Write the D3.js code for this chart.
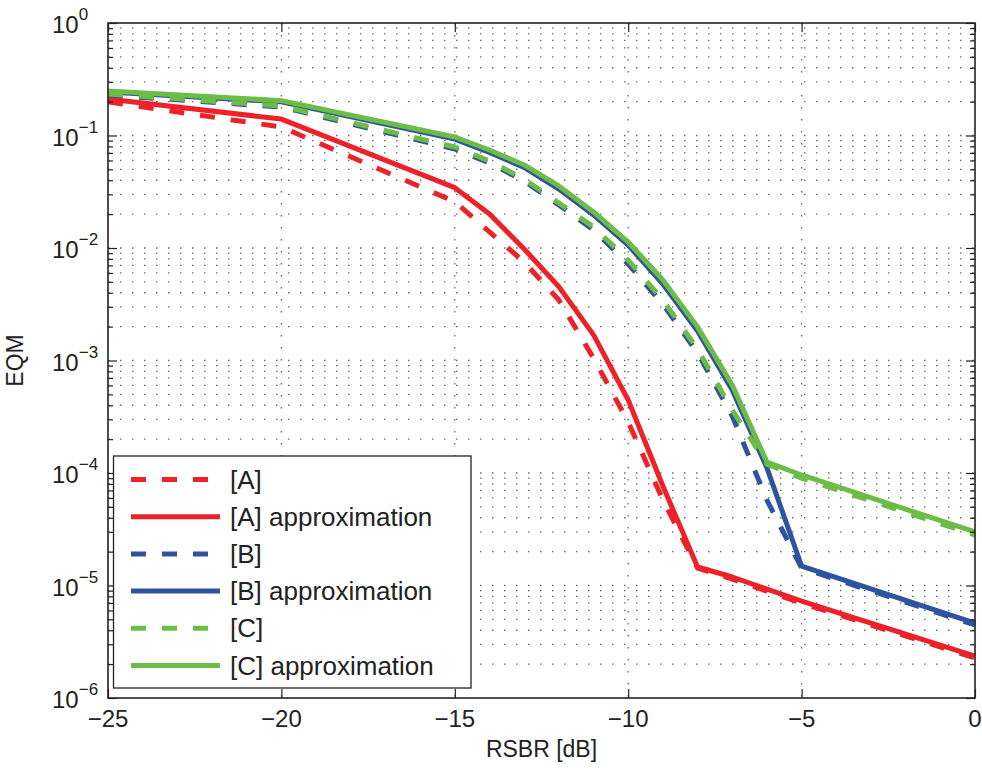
<!DOCTYPE html>
<html>
<head>
<meta charset="utf-8">
<script src="https://cdn.jsdelivr.net/npm/d3@7"></script>
<style>
  html, body { margin: 0; padding: 0; background: #fff; }
  svg { display: block; font-family: "Liberation Sans", Arial, Helvetica, sans-serif; }
</style>
</head>
<body>
<svg id="chart" width="982" height="774"></svg>
<script>
// ---- data ----
const rsbr = [-25, -20, -15, -14, -13, -12, -11, -10, -9, -8, -7, -6, -5, 0];

const eqmA       = [0.199, 0.119, 0.0258, 0.0139, 0.0075, 0.00345, 0.00105, 2.84e-4, 5.75e-5, 1.43e-5, 1.14e-5, 8.9e-6, 6.98e-6, 2.27e-6];
const eqmAapprox = [0.211, 0.140, 0.0344, 0.0201, 0.0098, 0.00453, 0.00169, 4.46e-4, 7.66e-5, 1.46e-5, 1.19e-5, 9.3e-6, 7.28e-6, 2.36e-6];
const eqmB       = [0.229, 0.179, 0.0759, 0.057, 0.0394, 0.0241, 0.0145, 0.0072, 0.00318, 0.00117, 3.21e-4, 5.75e-5, 1.43e-5, 4.46e-6];
const eqmBapprox = [0.244, 0.199, 0.093, 0.0706, 0.052, 0.0334, 0.0197, 0.0106, 0.00479, 0.00183, 5.47e-4, 1.11e-4, 1.49e-5, 4.64e-6];
const eqmC       = [0.234, 0.183, 0.079, 0.0593, 0.041, 0.0251, 0.0154, 0.0078, 0.00345, 0.00126, 3.63e-4, 1.2e-4, 9.0e-5, 2.81e-5];
const eqmCapprox = [0.249, 0.204, 0.097, 0.0743, 0.0547, 0.0356, 0.0209, 0.0113, 0.0052, 0.00199, 6.05e-4, 1.25e-4, 9.6e-5, 2.99e-5];

const seriesNames  = ["[A]", "[A] approximation", "[B]", "[B] approximation", "[C]", "[C] approximation"];
const seriesValues = [eqmA, eqmAapprox, eqmB, eqmBapprox, eqmC, eqmCapprox];
const seriesColors = ["#EE2129", "#EE2129", "#2F53A0", "#2F53A0", "#6CBD45", "#6CBD45"];
const seriesDashed = [true, false, true, false, true, false];

const xTicks = [-25, -20, -15, -10, -5, 0];
const yExponents = [0, -1, -2, -3, -4, -5, -6];
const xLabel = "RSBR [dB]";
const yLabel = "EQM";

// ---- layout ----
const L = 108, R = 975, T = 23, B = 698;
const svg = d3.select("#chart");
const x = d3.scaleLinear().domain([-25, 0]).range([L, R]);
const y = d3.scaleLog().domain([1e-6, 1]).range([B, T]);

// minor log positions
const minorVals = [];
for (let e = -6; e < 0; e++) for (let m = 2; m <= 9; m++) minorVals.push(m * Math.pow(10, e));
const majorVals = yExponents.map(e => Math.pow(10, e));

// ---- grid ----
const grid = svg.append("g");
grid.selectAll("line.hg").data(majorVals.concat(minorVals).filter(v => v > 1e-6 && v < 1))
  .join("line")
  .attr("x1", L).attr("x2", R)
  .attr("y1", d => y(d)).attr("y2", d => y(d))
  .attr("stroke", "#6a6a6a").attr("stroke-width", 1.3)
  .attr("stroke-dasharray", "1.5,10.5");
grid.selectAll("line.vg").data(xTicks.filter(v => v > -25 && v < 0))
  .join("line")
  .attr("x1", d => x(d)).attr("x2", d => x(d))
  .attr("y1", T).attr("y2", B)
  .attr("stroke", "#6a6a6a").attr("stroke-width", 1.3)
  .attr("stroke-dasharray", "1.5,10.5");

// ---- series ----
const line = d3.line().x(d => x(d[0])).y(d => y(d[1]));
seriesValues.forEach((vals, i) => {
  svg.append("path")
    .datum(rsbr.map((r, k) => [r, vals[k]]))
    .attr("d", line)
    .attr("fill", "none")
    .attr("stroke", seriesColors[i])
    .attr("stroke-width", 5)
    .attr("stroke-linejoin", "round")
    .attr("stroke-dasharray", seriesDashed[i] ? "15,16" : null);
});

// ---- axes (ticks inward) ----
const axisColor = "#222";
function styleAxis(g) {
  g.select(".domain").remove();
  g.selectAll("line").attr("stroke", axisColor).attr("stroke-width", 1.2);
  g.selectAll("text").remove();
}
svg.append("g").attr("transform", `translate(0,${B})`)
  .call(d3.axisBottom(x).tickValues(xTicks).tickSize(-9)).call(styleAxis);
svg.append("g").attr("transform", `translate(0,${T})`)
  .call(d3.axisTop(x).tickValues(xTicks).tickSize(-9)).call(styleAxis);
svg.append("g").attr("transform", `translate(${L},0)`)
  .call(d3.axisLeft(y).tickValues(majorVals).tickSize(-9)).call(styleAxis);
svg.append("g").attr("transform", `translate(${L},0)`)
  .call(d3.axisLeft(y).tickValues(minorVals).tickSize(-5)).call(styleAxis);
svg.append("g").attr("transform", `translate(${R},0)`)
  .call(d3.axisRight(y).tickValues(majorVals).tickSize(-9)).call(styleAxis);
svg.append("g").attr("transform", `translate(${R},0)`)
  .call(d3.axisRight(y).tickValues(minorVals).tickSize(-5)).call(styleAxis);

svg.append("rect").attr("x", L).attr("y", T).attr("width", R - L).attr("height", B - T)
  .attr("fill", "none").attr("stroke", axisColor).attr("stroke-width", 1.6);

// tick labels
const fmt = d3.format("d");
svg.append("g").selectAll("text").data(xTicks).join("text")
  .attr("x", d => x(d)).attr("y", B + 29)
  .attr("text-anchor", "middle").attr("font-size", 24).attr("fill", "#222")
  .text(d => fmt(d));

const yl = svg.append("g").selectAll("text").data(yExponents).join("text")
  .attr("x", 52).attr("y", d => y(Math.pow(10, d)) + 10)
  .attr("font-size", 24).attr("fill", "#222");
yl.append("tspan").text("10");
yl.append("tspan").attr("dy", -13).attr("font-size", 17).text(d => fmt(d));

// axis titles
svg.append("text").attr("x", (L + R) / 2).attr("y", 757)
  .attr("text-anchor", "middle").attr("font-size", 23).attr("fill", "#222").text(xLabel);
svg.append("text").attr("transform", `translate(23,${(T + B) / 2}) rotate(-90)`)
  .attr("text-anchor", "middle").attr("font-size", 23).attr("fill", "#222").text(yLabel);

// ---- legend ----
const lg = svg.append("g");
lg.append("rect").attr("x", 113.5).attr("y", 456).attr("width", 357.5).attr("height", 232)
  .attr("fill", "#fff").attr("stroke", axisColor).attr("stroke-width", 1.3);
const rowY = d3.scaleLinear().domain([0, 5]).range([479.5, 665.5]);
seriesNames.forEach((name, i) => {
  lg.append("line").attr("x1", 131).attr("x2", 220)
    .attr("y1", rowY(i)).attr("y2", rowY(i))
    .attr("stroke", seriesColors[i]).attr("stroke-width", 5)
    .attr("stroke-dasharray", seriesDashed[i] ? "15,16" : null);
  lg.append("text").attr("x", 230).attr("y", rowY(i) + 9)
    .attr("font-size", 26).attr("fill", "#222").text(name);
});
</script>
</body>
</html>
